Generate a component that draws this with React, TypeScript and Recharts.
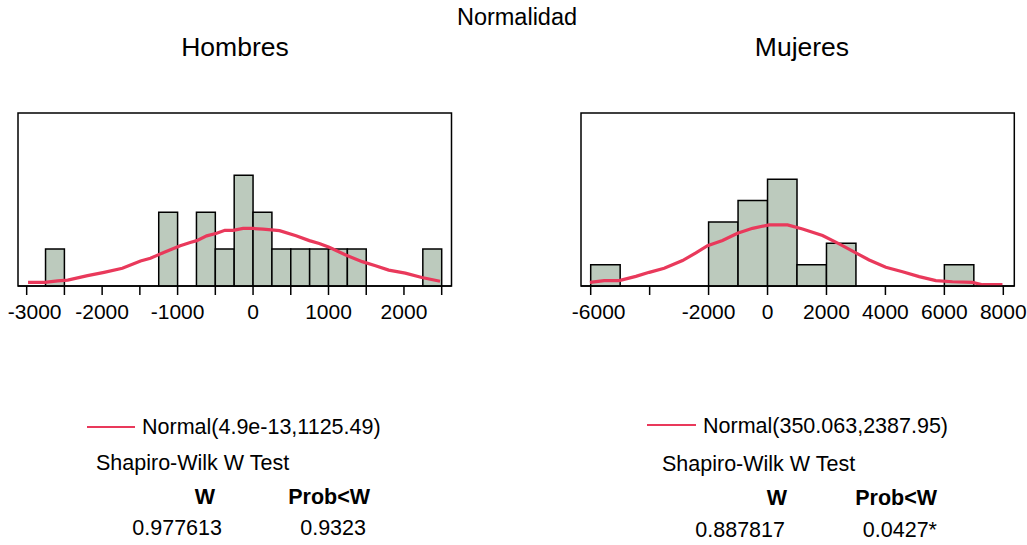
import React from "react";
import { ComposedChart, Line, XAxis, YAxis, ReferenceArea } from "recharts";

// Hombres: histogram bins (bin start, width 250) and counts
const hombresBinStart = [-2750, -1250, -750, -500, -250, 0, 250, 500, 750, 1000, 1250, 2250];
const hombresCounts = [1, 2, 2, 1, 3, 2, 1, 1, 1, 1, 1, 1];
const hombresBinWidth = 250;
// fitted normal curve
const hombresCurveX = [-2982, -2763, -2588, -2456, -2193, -1974, -1732, -1491, -1360, -1184, -965, -833, -746, -614, -482, -373, -263, -132, 0, 132, 351, 570, 746, 877, 1009, 1228, 1447, 1623, 1798, 2018, 2237, 2478];
const hombresCurveY = [0.1, 0.1, 0.14, 0.16, 0.28, 0.37, 0.48, 0.68, 0.75, 0.91, 1.09, 1.18, 1.23, 1.36, 1.43, 1.51, 1.51, 1.56, 1.56, 1.54, 1.5, 1.36, 1.23, 1.15, 1.05, 0.84, 0.66, 0.55, 0.43, 0.35, 0.23, 0.13];
const hombresTicks = [-3000, -2500, -2000, -1500, -1000, -500, 0, 500, 1000, 1500, 2000, 2500];
const hombresTickLabels = ["-3000", "", "-2000", "", "-1000", "", "0", "", "1000", "", "2000", ""];

// Mujeres: histogram bins (bin start, width 1000) and counts
const mujeresBinStart = [-6000, -2000, -1000, 0, 1000, 2000, 6000];
const mujeresCounts = [1, 3, 4, 5, 1, 2, 1];
const mujeresBinWidth = 1000;
const mujeresCurveX = [-6027, -5541, -5032, -4467, -4014, -3506, -2884, -2431, -2035, -1527, -1018, -509, 57, 679, 1187, 1866, 2431, 2997, 3449, 4014, 4580, 5145, 5711, 6276, 6955, 7294, 7972];
const mujeresCurveY = [0.17, 0.25, 0.25, 0.45, 0.64, 0.83, 1.19, 1.55, 1.89, 2.13, 2.47, 2.7, 2.86, 2.86, 2.67, 2.36, 1.97, 1.55, 1.22, 0.88, 0.67, 0.44, 0.25, 0.2, 0.17, 0.06, 0.06];
const mujeresTicks = [-6000, -4000, -2000, 0, 2000, 4000, 6000, 8000];
const mujeresTickLabels = ["-6000", "", "-2000", "0", "2000", "4000", "6000", "8000"];

const FONT = '"Liberation Sans", Arial, Helvetica, sans-serif';
const BAR_FILL = "#BCCABD";
const CURVE = "#E9395B";

type PanelProps = {
  left: number;
  width: number;
  marginLeft: number;
  marginRight: number;
  xDomain: [number, number];
  yMax: number;
  binStart: number[];
  counts: number[];
  binWidth: number;
  curveX: number[];
  curveY: number[];
  ticks: number[];
  tickLabels: string[];
};

const Panel = (p: PanelProps) => {
  const curve = p.curveX.map((x, i) => ({ x, y: p.curveY[i] }));
  const TickLabel = (props: any) => {
    const { x, y, payload, index } = props;
    const i = p.ticks.indexOf(payload.value);
    const label = p.tickLabels[i] ?? "";
    if (!label) return null;
    return (
      <text x={x + (index === 0 ? 8 : 0)} y={y + 22} textAnchor="middle" fill="#000" fontSize={21} fontFamily={FONT}>
        {label}
      </text>
    );
  };
  return (
    <div style={{ position: "absolute", left: p.left, top: 0 }}>
      <ComposedChart
        width={p.width}
        height={340}
        data={curve}
        margin={{ top: 113, left: p.marginLeft, right: p.marginRight, bottom: 14 }}
      >
        <XAxis
          dataKey="x"
          type="number"
          domain={p.xDomain}
          allowDataOverflow
          ticks={p.ticks}
          interval={0}
          tickSize={9}
          height={40}
          tickLine={{ stroke: "#000", strokeWidth: 1.5 }}
          axisLine={{ stroke: "#000", strokeWidth: 1.5 }}
          tick={<TickLabel />}
        />
        <YAxis type="number" domain={[0, p.yMax]} allowDataOverflow width={0} hide />
        {/* plot frame */}
        <ReferenceArea
          x1={p.xDomain[0]}
          x2={p.xDomain[1]}
          y1={0}
          y2={p.yMax}
          fill="none"
          stroke="#000"
          strokeWidth={1.5}
        />
        {p.binStart.map((b, i) => (
          <ReferenceArea
            key={b}
            x1={b}
            x2={b + p.binWidth}
            y1={0}
            y2={p.counts[i]}
            fill={BAR_FILL}
            fillOpacity={1}
            stroke="#000"
            strokeWidth={1.5}
          />
        ))}
        <Line
          dataKey="y"
          type="linear"
          stroke={CURVE}
          strokeWidth={3.2}
          dot={false}
          activeDot={false}
          isAnimationActive={false}
        />
      </ComposedChart>
    </div>
  );
};

const txt = (s: React.CSSProperties): React.CSSProperties => ({
  position: "absolute",
  fontFamily: FONT,
  fontSize: 21.5,
  lineHeight: "24px",
  whiteSpace: "nowrap",
  color: "#000",
  ...s,
});

const Centered = ({ cx, cy, size, children }: { cx: number; cy: number; size: number; children: React.ReactNode }) => (
  <div style={txt({ left: cx - 200, width: 400, top: cy - 14, lineHeight: "28px", fontSize: size, textAlign: "center" })}>{children}</div>
);

const LegendLine = ({ x1, x2, y }: { x1: number; x2: number; y: number }) => (
  <div style={{ position: "absolute", left: x1, top: y - 1, width: x2 - x1, height: 0, borderTop: `2px solid ${CURVE}` }} />
);

const Right = ({ r, cy, bold, children }: { r: number; cy: number; bold?: boolean; children: React.ReactNode }) => (
  <div style={txt({ right: 1027 - r, top: cy - 12, fontWeight: bold ? "bold" : "normal", textAlign: "right" })}>{children}</div>
);

const Left = ({ l, cy, children }: { l: number; cy: number; children: React.ReactNode }) => (
  <div style={txt({ left: l, top: cy - 12 })}>{children}</div>
);

export default function App() {
  return (
    <div style={{ position: "absolute", left: 0, top: 0, width: 1027, height: 545, background: "#fff", overflow: "hidden" }}>
      <Centered cx={517} cy={17} size={23.5}>Normalidad</Centered>
      <Centered cx={235} cy={47} size={26.5}>Hombres</Centered>
      <Centered cx={802} cy={47} size={26.5}>Mujeres</Centered>

      <Panel
        left={0}
        width={470}
        marginLeft={18}
        marginRight={18.5}
        xDomain={[-3115, 2630]}
        yMax={4.69}
        binStart={hombresBinStart}
        counts={hombresCounts}
        binWidth={hombresBinWidth}
        curveX={hombresCurveX}
        curveY={hombresCurveY}
        ticks={hombresTicks}
        tickLabels={hombresTickLabels}
      />
      <Panel
        left={560}
        width={467}
        marginLeft={21}
        marginRight={12.7}
        xDomain={[-6329, 8373]}
        yMax={8.1}
        binStart={mujeresBinStart}
        counts={mujeresCounts}
        binWidth={mujeresBinWidth}
        curveX={mujeresCurveX}
        curveY={mujeresCurveY}
        ticks={mujeresTicks}
        tickLabels={mujeresTickLabels}
      />

      <LegendLine x1={87} x2={135} y={427} />
      <Left l={142} cy={427}>Normal(4.9e-13,1125.49)</Left>
      <Left l={96} cy={463}>Shapiro-Wilk W Test</Left>
      <Right r={215} cy={497} bold>W</Right>
      <Right r={370} cy={497} bold>Prob&lt;W</Right>
      <Right r={222} cy={528}>0.977613</Right>
      <Right r={366} cy={528}>0.9323</Right>

      <LegendLine x1={647} x2={696} y={425} />
      <Left l={703} cy={426}>Normal(350.063,2387.95)</Left>
      <Left l={662} cy={464}>Shapiro-Wilk W Test</Left>
      <Right r={787} cy={498} bold>W</Right>
      <Right r={937} cy={498} bold>Prob&lt;W</Right>
      <Right r={785} cy={530}>0.887817</Right>
      <Right r={937} cy={530}>0.0427*</Right>
    </div>
  );
}
